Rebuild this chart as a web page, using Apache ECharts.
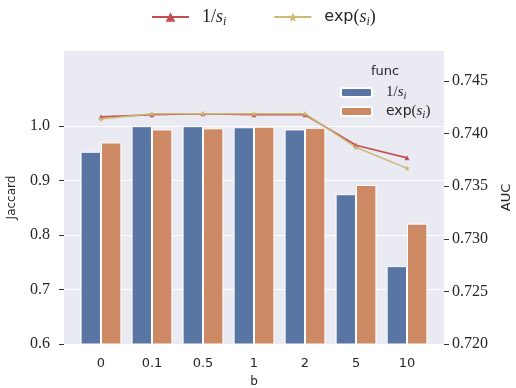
<!DOCTYPE html>
<html>
<head>
<meta charset="utf-8">
<script src="https://cdn.jsdelivr.net/npm/echarts@6/dist/echarts.min.js"></script>
<style>html,body{margin:0;padding:0;background:#fff}#c{width:516px;height:388px}</style>
</head>
<body>
<div id="c"></div>
<script>
var categories = ['0', '0.1', '0.5', '1', '2', '5', '10'];
var jaccardInv = [0.953, 1.000, 1.000, 0.998, 0.994, 0.875, 0.743];
var jaccardExp = [0.970, 0.994, 0.996, 0.999, 0.997, 0.892, 0.821];
var aucInv = [0.7416, 0.7418, 0.7419, 0.7418, 0.7418, 0.7389, 0.7377];
var aucExp = [0.7414, 0.7419, 0.7419, 0.7419, 0.7419, 0.7387, 0.7367];
var leftTicks = [0.6, 0.7, 0.8, 0.9, 1.0];
var rightTicks = [0.720, 0.725, 0.730, 0.735, 0.740, 0.745];

var C_BLUE = '#5975A4', C_ORANGE = '#CC8963', C_RED = '#C44E52', C_GOLD = '#CCB974';
var TXT = '#262626';
var STAR = 'path://M0,-10 L2.35,-3.24 L9.51,-3.09 L3.8,1.24 L5.88,8.09 L0,4 L-5.88,8.09 L-3.8,1.24 L-9.51,-3.09 L-2.35,-3.24 Z';

function pts(arr) { return arr.map(function (v, i) { return [i, v]; }); }

function makeRich(big, sans, sub, lh, pad) {
  return {
    p: { width: pad, lineHeight: lh },
    m: { fontFamily: 'Liberation Serif', fontSize: big, color: TXT, lineHeight: lh, verticalAlign: 'middle' },
    it: { fontFamily: 'Liberation Serif', fontStyle: 'italic', fontSize: big, color: TXT, lineHeight: lh, verticalAlign: 'middle' },
    s: { fontFamily: 'DejaVu Sans', fontSize: sans, color: TXT, lineHeight: lh, verticalAlign: 'middle' },
    sub: { fontFamily: 'Liberation Serif', fontStyle: 'italic', fontSize: sub, color: TXT, lineHeight: sub, verticalAlign: 'bottom' }
  };
}
var richTop = makeRich(18, 16, 12, 22, 8);
var richIn = makeRich(15, 14, 11, 19, 9);
function fmtName(name) {
  if (name.indexOf('inv') >= 0) return '{p|}{m|1/}{it|s}{sub|i}';
  return '{p|}{s|exp}{m|(}{it|s}{sub|i}{m|)}';
}

var chart = echarts.init(document.getElementById('c'), null, { renderer: 'canvas' });
chart.setOption({
  animation: false,
  backgroundColor: '#ffffff',
  title: {
    text: 'func', left: 366, top: 60,
    textStyle: { fontFamily: 'DejaVu Sans', fontSize: 13, fontWeight: 'normal', color: TXT }
  },
  legend: [
    {
      data: ['auc inv', 'auc exp'],
      left: 146, top: 3,
      itemWidth: 37, itemHeight: 12, itemGap: 47,
      formatter: fmtName,
      textStyle: { rich: richTop }
    },
    {
      data: ['jac inv', 'jac exp'],
      orient: 'vertical',
      left: 335, top: 80,
      itemWidth: 31, itemHeight: 9, itemGap: 2,
      formatter: fmtName,
      textStyle: { rich: richIn }
    }
  ],
  grid: {
    left: 64, right: 72, top: 51, bottom: 44, containLabel: false, outerBoundsMode: 'none',
    show: true, backgroundColor: '#EAEAF2', borderWidth: 0
  },
  xAxis: {
    type: 'value', min: -0.725, max: 6.725, interval: 1,
    name: 'b', nameLocation: 'middle', nameGap: 32,
    nameTextStyle: { fontFamily: 'DejaVu Sans', fontSize: 12, color: TXT },
    axisLine: { show: false, onZero: false }, axisTick: { show: false }, splitLine: { show: false },
    axisLabel: {
      customValues: [0, 1, 2, 3, 4, 5, 6],
      formatter: function (v) { return categories[Math.round(v)]; },
      fontFamily: 'DejaVu Sans', fontSize: 13, color: TXT, margin: 13
    }
  },
  yAxis: [
    {
      type: 'value', min: 0.6, max: 1.138, interval: 0.1,
      name: 'Jaccard', nameLocation: 'middle', nameGap: 46, nameRotate: 90,
      nameTextStyle: { fontFamily: 'DejaVu Sans', fontSize: 12, color: TXT },
      axisLine: { show: false, onZero: false },
      axisTick: { show: true, customValues: leftTicks, length: 5, lineStyle: { color: '#333', width: 1 } },
      axisLabel: {
        customValues: leftTicks,
        formatter: function (v) { return v.toFixed(1); },
        fontFamily: 'Liberation Serif', fontSize: 16, color: TXT, margin: 14
      },
      splitLine: { show: true, lineStyle: { color: '#ffffff', width: 1 } }
    },
    {
      type: 'value', min: 0.72, max: 0.74786, interval: 0.005, position: 'right',
      name: 'AUC', nameLocation: 'middle', nameGap: 56, nameRotate: 90,
      nameTextStyle: { fontFamily: 'DejaVu Sans', fontSize: 13, color: TXT },
      axisLine: { show: false, onZero: false },
      axisTick: { show: true, customValues: rightTicks, length: 5, lineStyle: { color: '#333', width: 1 } },
      axisLabel: {
        customValues: rightTicks,
        formatter: function (v) { return v.toFixed(3); },
        fontFamily: 'Liberation Serif', fontSize: 16, color: TXT, margin: 8
      },
      splitLine: { show: false }
    }
  ],
  series: [
    {
      name: 'jac inv', type: 'bar', yAxisIndex: 0, data: pts(jaccardInv),
      barWidth: '40%', barGap: '0%',
      itemStyle: { color: C_BLUE, borderColor: '#ffffff', borderWidth: 1 }
    },
    {
      name: 'jac exp', type: 'bar', yAxisIndex: 0, data: pts(jaccardExp),
      barWidth: '40%', barGap: '0%',
      itemStyle: { color: C_ORANGE, borderColor: '#ffffff', borderWidth: 1 }
    },
    {
      name: 'auc inv', type: 'line', yAxisIndex: 1, data: pts(aucInv),
      symbol: 'triangle', symbolSize: 5, showSymbol: true,
      lineStyle: { color: C_RED, width: 1.6 },
      itemStyle: { color: C_RED },
      z: 5
    },
    {
      name: 'auc exp', type: 'line', yAxisIndex: 1, data: pts(aucExp),
      symbol: STAR, symbolSize: 6, showSymbol: true,
      lineStyle: { color: C_GOLD, width: 1.6 },
      itemStyle: { color: C_GOLD },
      z: 5
    }
  ]
});
</script>
</body>
</html>
